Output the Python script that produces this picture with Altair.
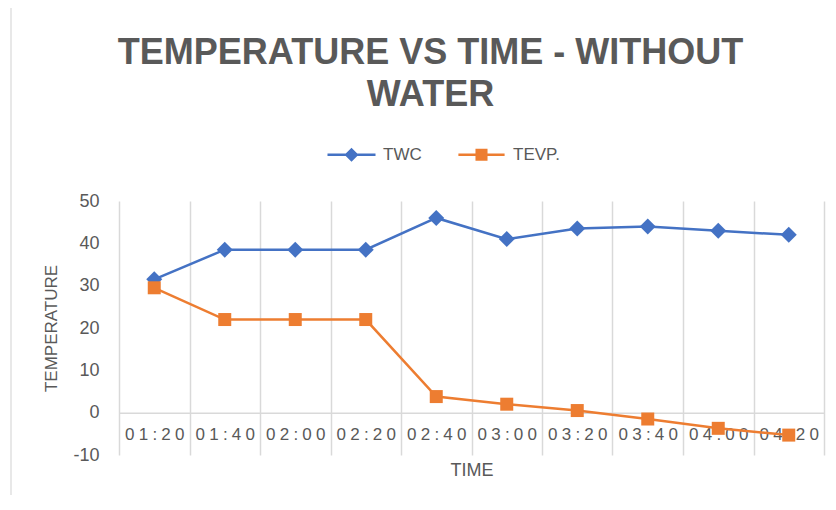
import altair as alt
import pandas as pd

times = ["01:20", "01:40", "02:00", "02:20", "02:40", "03:00", "03:20", "03:40", "04:00", "04:20"]
twc = [31.5, 38.5, 38.5, 38.5, 46.0, 41.0, 43.5, 44.0, 43.0, 42.0]
tevp = [29.5, 22.0, 22.0, 22.0, 3.8, 2.0, 0.5, -1.5, -3.7, -5.3]
series_names = ["TWC", "TEVP."]
series_colors = ["#4472C4", "#ED7D31"]

rows = []
for i, t in enumerate(times):
    rows.append({"pos": i + 0.5, "time": t, "series": "TWC", "value": twc[i]})
    rows.append({"pos": i + 0.5, "time": t, "series": "TEVP.", "value": tevp[i]})
df = pd.DataFrame(rows)

W, H = 705, 254
FONT = "Liberation Sans"
TXT = "#595959"
GRID = "#D9D9D9"

times_js = "[" + ",".join("'%s'" % t for t in times) + "]"
label_expr = "datum.value < 10 ? join(split(%s[datum.value], ''), '\u2005') : ''" % times_js

x_enc = alt.X(
    "pos:Q",
    scale=alt.Scale(domain=[0, 10], nice=False, zero=False),
    axis=alt.Axis(
        values=list(range(11)),
        grid=True, gridColor=GRID, gridWidth=1.5,
        domain=True, domainColor=GRID, domainWidth=1.5,
        ticks=False, tickSize=0,
        labelExpr=label_expr, labelOffset=W / 20, labelPadding=14,
        labelOverlap=False, labelFlush=False, labelBound=False,
        labelFont=FONT, labelFontSize=17, labelColor=TXT,
        offset=-H * 10 / 60,
        title="TIME", titleFont=FONT, titleFontSize=18, titleColor=TXT,
        titleFontWeight="normal", titlePadding=19,
    ),
)
y_enc = alt.Y(
    "value:Q",
    scale=alt.Scale(domain=[-10, 50], nice=False, zero=False),
    axis=alt.Axis(
        values=[-10, 0, 10, 20, 30, 40, 50],
        labelExpr="datum.value < 0 ? '-' + abs(datum.value) : '' + datum.value",
        grid=False, domain=False, ticks=False, tickSize=0,
        labelPadding=20, labelFont=FONT, labelFontSize=18, labelColor=TXT,
        title="TEMPERATURE", titleFont=FONT, titleFontSize=17, titleColor=TXT,
        titleFontWeight="normal", titlePadding=12,
    ),
)
color_scale = alt.Scale(domain=series_names, range=series_colors)

lines = alt.Chart(df).mark_line(strokeWidth=2.5).encode(
    x=x_enc, y=y_enc,
    color=alt.Color("series:N", scale=color_scale, legend=None),
    detail="series:N",
)

points = alt.Chart(df).mark_point(filled=True, opacity=1).encode(
    x="pos:Q", y="value:Q",
    color=alt.Color("series:N", scale=color_scale, legend=None),
    shape=alt.Shape("series:N", scale=alt.Scale(domain=series_names, range=["diamond", "square"]), legend=None),
    size=alt.Size("series:N", scale=alt.Scale(domain=series_names, range=[256, 169]), legend=None),
)

diamond_path = "M-3.43,-0.18H3.43V0.18H-3.43Z M0,-1L1,0L0,1L-1,0Z"
square_path = "M-3.3,-0.18H3.3V0.18H-3.3Z M-0.86,-0.86H0.86V0.86H-0.86Z"

legend_def = alt.Legend(
    title=None, orient="none", direction="horizontal",
    legendX=224, legendY=-55, padding=0,
    symbolSize=196, symbolStrokeWidth=0,
    labelOffset=23, columnPadding=36,
    labelFont=FONT, labelFontSize=17, labelColor=TXT,
)

legend_carrier = alt.Chart(df).mark_point(filled=True, opacity=1, size=196, clip=True).encode(
    x=alt.value(-2000), y=alt.value(-2000),
    color=alt.Color("series:N", scale=color_scale, legend=legend_def),
    shape=alt.Shape(
        "series:N",
        scale=alt.Scale(domain=series_names, range=[diamond_path, square_path]),
        legend=legend_def,
    ),
)

border = alt.Chart(pd.DataFrame({"a": [0]})).mark_rule(color=GRID, strokeWidth=1.2).encode(
    x=alt.value(-108), y=alt.value(-201), y2=alt.value(309)
)

chart = alt.layer(border, lines, points, legend_carrier).resolve_scale(
    shape="independent", size="independent", color="independent"
).properties(
    width=W, height=H,
    title=alt.TitleParams(
        text=["TEMPERATURE VS TIME - WITHOUT", "WATER"],
        font=FONT, fontSize=36, fontWeight="bold", color=TXT,
        anchor="middle", lineHeight=42, dx=-41, offset=-115,
    ),
    autosize=alt.AutoSizeParams(type="none"),
    padding={"left": 111, "top": 193, "right": 4, "bottom": 40},
).configure_view(stroke=None)

chart.save("out.html", embed_options={"renderer": "svg", "actions": False})
